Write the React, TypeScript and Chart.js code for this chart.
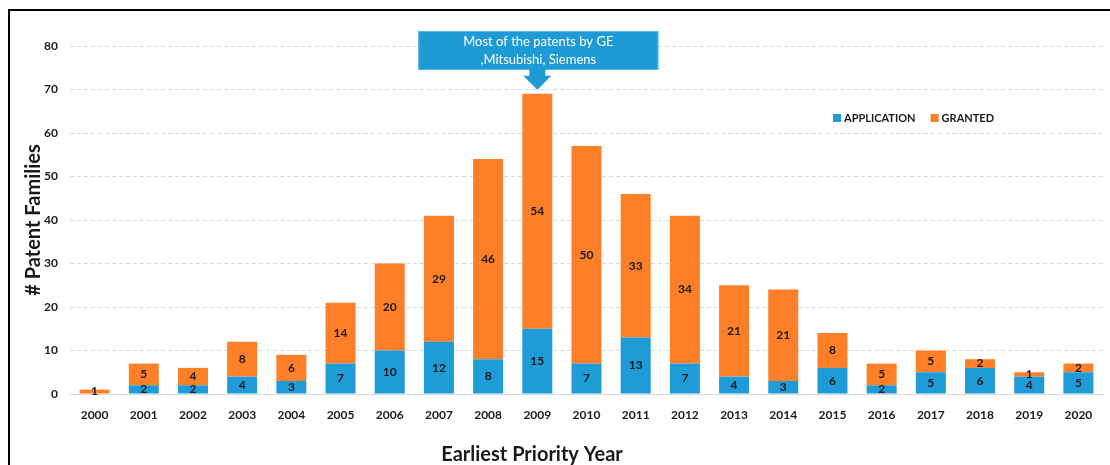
import React, { useEffect, useRef } from "react";
import { Chart, registerables } from "chart.js";

Chart.register(...registerables);

const years = ["2000", "2001", "2002", "2003", "2004", "2005", "2006", "2007", "2008", "2009", "2010", "2011", "2012", "2013", "2014", "2015", "2016", "2017", "2018", "2019", "2020"];
const application = [0, 2, 2, 4, 3, 7, 10, 12, 8, 15, 7, 13, 7, 4, 3, 6, 2, 5, 6, 4, 5];
const granted = [1, 5, 4, 8, 6, 14, 20, 29, 46, 54, 50, 33, 34, 21, 21, 8, 5, 5, 2, 1, 2];
const seriesNames = ["APPLICATION", "GRANTED"];
const yMax = 80;
const yStep = 10;
const calloutLines = ["Most of the patents by GE", ",Mitsubishi, Siemens"];
const calloutYear = "2009";
const yTitle = "# Patent Families";
const xTitle = "Earliest Priority Year";

const BLUE = "#1F9BD7";
const ORANGE = "#FD7F28";
const FONT = "Lato, 'Open Sans', sans-serif";

const valueLabels = {
  id: "valueLabels",
  afterDatasetsDraw(chart: any) {
    const ctx = chart.ctx;
    ctx.save();
    ctx.font = `bold 12px ${FONT}`;
    ctx.fillStyle = "#1a1a1a";
    ctx.textAlign = "center";
    ctx.textBaseline = "middle";
    chart.data.datasets.forEach((ds: any, di: number) => {
      const meta = chart.getDatasetMeta(di);
      meta.data.forEach((el: any, i: number) => {
        const v = ds.data[i];
        if (!v) return;
        ctx.fillText(String(v), el.x, (el.y + el.base) / 2);
      });
    });
    ctx.restore();
  },
};

const callout = {
  id: "callout",
  afterDraw(chart: any) {
    const ctx = chart.ctx;
    const xs = chart.scales.x;
    const ys = chart.scales.y;
    const idx = years.indexOf(calloutYear);
    const total = application[idx] + granted[idx];
    const cx = xs.getPixelForValue(idx);
    const tipY = ys.getPixelForValue(total) - 4;
    const boxW = 240;
    const boxH = 39;
    const boxTop = 31;
    const boxLeft = cx - 119;
    ctx.save();
    ctx.fillStyle = "#1E9AD6";
    ctx.strokeStyle = "#5BB8E6";
    ctx.lineWidth = 1;
    ctx.fillRect(boxLeft, boxTop, boxW, boxH);
    ctx.strokeRect(boxLeft + 0.5, boxTop + 0.5, boxW - 1, boxH - 1);
    ctx.beginPath();
    ctx.moveTo(cx - 8, boxTop + boxH - 1);
    ctx.lineTo(cx + 8, boxTop + boxH - 1);
    ctx.lineTo(cx + 8, tipY - 14);
    ctx.lineTo(cx + 14, tipY - 14);
    ctx.lineTo(cx, tipY);
    ctx.lineTo(cx - 14, tipY - 14);
    ctx.lineTo(cx - 8, tipY - 14);
    ctx.closePath();
    ctx.fill();
    ctx.fillStyle = "#ffffff";
    ctx.font = `13px ${FONT}`;
    ctx.textAlign = "center";
    ctx.textBaseline = "middle";
    ctx.fillText(calloutLines[0], boxLeft + boxW / 2, boxTop + 11);
    ctx.fillText(calloutLines[1], boxLeft + boxW / 2, boxTop + 29);
    ctx.restore();
  },
};

const customLegend = {
  id: "customLegend",
  afterDraw(chart: any) {
    const ctx = chart.ctx;
    const ca = chart.chartArea;
    let x = ca.left + 763;
    const y = 118;
    ctx.save();
    ctx.font = `bold 11px ${FONT}`;
    ctx.textBaseline = "middle";
    ctx.textAlign = "left";
    chart.data.datasets.forEach((ds: any) => {
      ctx.fillStyle = ds.backgroundColor;
      ctx.fillRect(x, y - 4, 8, 8);
      ctx.fillStyle = "#1a1a1a";
      ctx.fillText(ds.label, x + 11, y);
      x += 11 + ctx.measureText(ds.label).width + 15;
    });
    ctx.restore();
  },
};

const xAxisTitle = {
  id: "xAxisTitle",
  afterDraw(chart: any) {
    const ctx = chart.ctx;
    ctx.save();
    ctx.font = `bold 20px ${FONT}`;
    ctx.fillStyle = "#1a1a1a";
    ctx.textAlign = "center";
    ctx.textBaseline = "middle";
    ctx.fillText(xTitle, 532, 455);
    ctx.restore();
  },
};

export default function App() {
  const canvasRef = useRef<HTMLCanvasElement | null>(null);

  useEffect(() => {
    document.body.style.overflow = "hidden";
    const chart = new Chart(canvasRef.current as HTMLCanvasElement, {
      type: "bar",
      data: {
        labels: years,
        datasets: [
          { label: seriesNames[0], data: application, backgroundColor: BLUE, barPercentage: 1, categoryPercentage: 0.61 },
          { label: seriesNames[1], data: granted, backgroundColor: ORANGE, barPercentage: 1, categoryPercentage: 0.61 },
        ],
      },
      options: {
        animation: false,
        responsive: false,
        maintainAspectRatio: false,
        layout: { padding: { left: 20, right: 7, top: 46, bottom: 0 } },
        plugins: { legend: { display: false }, tooltip: { enabled: false } },
        scales: {
          x: {
            stacked: true,
            grid: { display: false, drawTicks: false },
            border: { display: true, color: "#D9D9D9", width: 1 },
            ticks: { padding: 14, color: "#1a1a1a", font: { family: FONT, size: 12, weight: "bold" } },
            title: { display: false },
            afterFit(scale: any) { scale.height = 71; },
          },
          y: {
            stacked: true,
            min: 0,
            max: yMax,
            ticks: { stepSize: yStep, padding: 12, color: "#1a1a1a", font: { family: FONT, size: 12, weight: "bold" } },
            grid: { color: "#D9D9D9", drawTicks: false },
            border: { display: false, dash: [4, 3] },
            title: { display: true, text: yTitle, color: "#1a1a1a", padding: { top: 2, bottom: 2 }, font: { family: FONT, size: 20, weight: "bold" } },
            afterFit(scale: any) { scale.width = 50; },
          },
        },
      },
      plugins: [valueLabels, callout, customLegend, xAxisTitle],
    } as any);
    return () => chart.destroy();
  }, []);

  return (
    <div style={{ position: "fixed", left: 0, top: 0, width: 1110, height: 465, background: "#fff", overflow: "hidden" }}>
      <div style={{ position: "absolute", left: 8, top: 9, width: 1200, height: 500, borderTop: "2px solid #000", borderLeft: "2px solid #000" }} />
      <canvas ref={canvasRef} width={1110} height={465} style={{ position: "absolute", left: 0, top: 0, width: 1110, height: 465 }} />
    </div>
  );
}
